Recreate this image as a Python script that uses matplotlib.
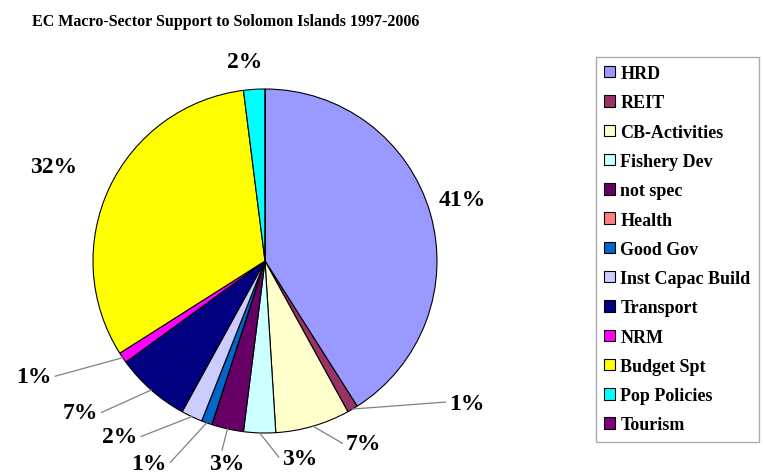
import numpy as np
import matplotlib.pyplot as plt

# datos
sectores = ["HRD", "REIT", "CB-Activities", "Fishery Dev", "not spec", "Health",
            "Good Gov", "Inst Capac Build", "Transport", "NRM", "Budget Spt",
            "Pop Policies", "Tourism"]
porcentajes = [41, 1, 7, 3, 3, 0, 1, 2, 7, 1, 32, 2, 0]
colores = ["#9999FF", "#993366", "#FFFFCC", "#CCFFFF", "#660066", "#FF8080",
           "#0066CC", "#CCCCFF", "#000080", "#FF00FF", "#FFFF00", "#00FFFF", "#800080"]

# posiciones de etiquetas (radios) y fin de la línea guía (None = sin línea)
pos_texto = [(1.15, 0.36), (1.07, -0.83), (0.47, -1.06), (0.10, -1.15), (-0.22, -1.18), None,
             (-0.57, -1.18), (-0.74, -1.02), (-0.97, -0.88), (-1.24, -0.67), (-1.23, 0.55),
             (-0.12, 1.16), None]
fin_guia = [None, (1.05, -0.82), (0.45, -1.06), (0.08, -1.14), (-0.25, -1.10), None,
            (-0.55, -1.17), (-0.72, -1.02), (-0.95, -0.88), (-1.22, -0.67), None, None, None]
alineacion = ["center", "left", "left", "left", "center", "center", "right", "right",
              "right", "right", "center", "center", "center"]

plt.rcParams['font.family'] = ['Liberation Serif', 'DejaVu Serif']

fig = plt.figure(figsize=(7.64, 4.77), dpi=100)
W, H = 764, 477
cx, cy, r = 265, 477 - 262, 172
ax = fig.add_axes([(cx - 1.5 * r) / W, (cy - 1.3 * r) / H, 3 * r / W, 2.6 * r / H])

wedges, _ = ax.pie(porcentajes, colors=colores, startangle=90, counterclock=False,
                   radius=1, center=(0, 0), frame=True,
                   wedgeprops=dict(edgecolor='black', linewidth=0.8))
ax.set_xlim(-1.5, 1.5)
ax.set_ylim(-1.3, 1.3)
ax.axis('off')

for w, p, t, f, ha in zip(wedges, porcentajes, pos_texto, fin_guia, alineacion):
    if t is None:
        continue
    if f is not None:
        ang = np.radians((w.theta1 + w.theta2) / 2)
        ax.plot([np.cos(ang), f[0]], [np.sin(ang), f[1]], color='gray', lw=0.9,
                clip_on=False)
    ax.text(t[0], t[1], f"{p}%", ha=ha, va='center', fontsize=17,
            fontweight='bold', clip_on=False)

fig.text(32 / W, 1 - 22 / H, "EC Macro-Sector Support to Solomon Islands 1997-2006",
         fontsize=11.5, fontweight='bold', va='center', ha='left')

leg = fig.legend(wedges, sectores, loc='upper left', bbox_to_anchor=(596 / W, 1 - 58 / H),
                 frameon=True, fancybox=False, edgecolor='#999999',
                 handlelength=0.6, handleheight=0.6, handletextpad=0.3,
                 labelspacing=0.68, borderpad=0.45, borderaxespad=0,
                 prop={'weight': 'bold', 'size': 13})

fig.savefig("out.png", dpi=100)
